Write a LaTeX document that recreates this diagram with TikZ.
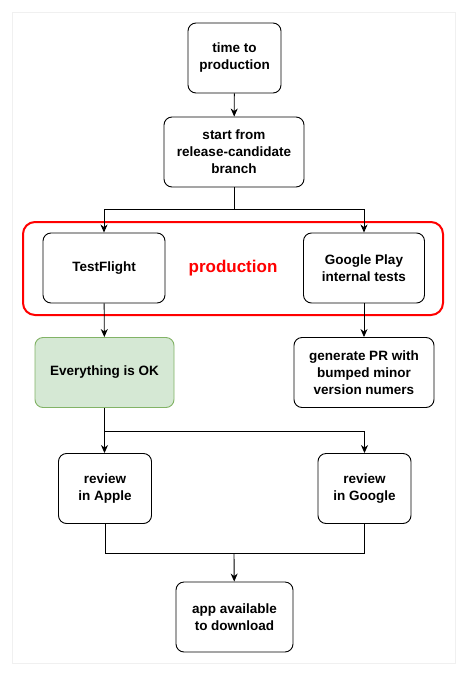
\documentclass[tikz,border=0pt]{standalone}
\usepackage{fontspec}
\setmainfont{Liberation Sans}
\usepackage{xcolor}
\usetikzlibrary{arrows.meta,positioning}

\definecolor{okfill}{HTML}{D5E8D4}
\definecolor{okline}{HTML}{82B366}
\definecolor{framegray}{HTML}{F0F0F0}

\begin{document}
\begin{tikzpicture}[x=1pt, y=-1pt,
        stepbox/.style={draw, line width=0.9pt, rounded corners=8pt, minimum height=70pt,
            align=center, font=\bfseries\fontsize{13.5}{17}\selectfont},
        arr/.style={-{Stealth[length=8pt,width=7pt,inset=2.5pt]}, line width=0.9pt},
        conn/.style={line width=0.9pt}]
        \useasboundingbox (0,0) rectangle (466,675);
        \draw[framegray, line width=0.8pt] (12,12) rectangle (455,663);

        % production group
        \node[draw=red, line width=2pt, rounded corners=12pt, minimum width=420pt, minimum height=93pt,
            text=red, font=\bfseries\fontsize{17}{20}\selectfont] (prod) at (233,268.5) {production};

        \node[stepbox, minimum width=93pt] (time) at (234.5,58) {time to\\production};
        \node[stepbox, minimum width=140pt] (start) at (234,152) {start from\\release-candidate\\branch};
        \node[stepbox, minimum width=122pt] (tf) at (104,268) {TestFlight};
        \node[stepbox, minimum width=121pt] (gp) at (364,268) {Google Play\\internal tests};
        \node[stepbox, minimum width=139pt, draw=okline, fill=okfill] (ok) at (104.5,372.5) {Everything is OK};
        \node[stepbox, minimum width=140pt] (pr) at (364,372.5) {generate PR with\\bumped minor\\version numers};
        \node[stepbox, minimum width=93pt] (apple) at (105,488.5) {review\\in Apple};
        \node[stepbox, minimum width=93pt] (google) at (364.5,488.5) {review\\in Google};
        \node[stepbox, minimum width=117pt] (app) at (234.5,617) {app available\\to download};

        \coordinate (split1) at (234,209);
        \coordinate (split2) at (104.5,431);
        \coordinate (merge) at (234,553);

        % connectors
        \draw[arr] (time) -- (start);
        \draw[conn] (start) -- (split1);
        \draw[arr] (split1) -| (tf.north);
        \draw[arr] (split1) -| (gp.north);
        \draw[arr] (tf) -- (ok);
        \draw[arr] (gp) -- (pr);
        \draw[conn] (ok) -- (split2);
        \draw[arr] (split2) -- (apple.north -| split2);
        \draw[arr] (split2) -| (google.north);
        \draw[conn] (apple.south) |- (merge);
        \draw[conn] (google.south) |- (merge);
        \draw[arr] (merge) -- (app);
    \end{tikzpicture}
\end{document}
